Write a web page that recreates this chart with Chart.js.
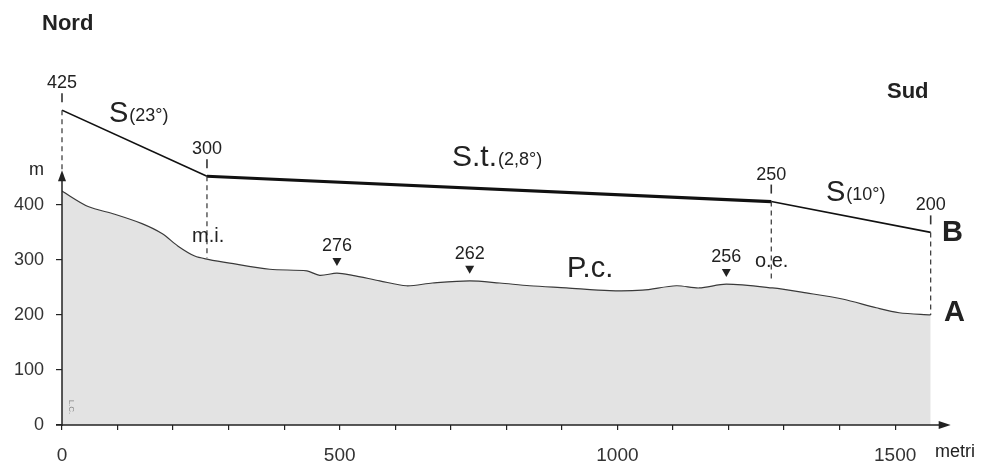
<!DOCTYPE html>
<html>
<head>
<meta charset="utf-8">
<script src="https://cdn.jsdelivr.net/npm/chart.js@4.4.1/dist/chart.umd.min.js"></script>
<style>
  html, body { margin: 0; padding: 0; background: #fff; }
  #wrap { width: 987px; height: 463px; }
</style>
</head>
<body>
<div id="wrap"><canvas id="c" width="987" height="463"></canvas></div>
<script>
// ---- Data ----
// Terrain profile A (distance in metri, elevation in m)
const profileX = [0, 47, 95, 144, 180, 209, 239, 263, 302, 374, 441, 464, 495, 523, 572, 620, 667, 734, 788, 842, 908, 986, 1045, 1106, 1147, 1196, 1279, 1340, 1405, 1466, 1507, 1564];
const profileY = [425, 397, 383, 366, 348, 325, 307, 301, 294, 283, 280, 272, 276, 272, 262, 253, 258, 262, 258, 253, 249, 244, 245, 253, 249, 256, 249, 240, 229, 213, 204, 200];
// Schematic surface line B (drawn above the profile)
const bLineX = [0, 261, 1277, 1564];
const bLineY = [572, 452, 406, 350];
const bLineLabels = ['425', '300', '250', '200'];
const bDashEnd = [463, 304, 266, 200];
// Peaks on profile
const peakX = [495, 734, 1196];
const peakY = [276, 262, 256];
const peakLabels = ['276', '262', '256'];
// Axis ticks
const yTicks = [0, 100, 200, 300, 400];
const xTicks = [0, 100, 200, 300, 400, 500, 600, 700, 800, 900, 1000, 1100, 1200, 1300, 1400, 1500];
const xLabelEvery = 500;

const FONT = '"Liberation Sans", Arial, Helvetica, sans-serif';
const INK = '#222';

const overlay = {
  id: 'overlay',
  afterDatasetsDraw(chart) {
    const ctx = chart.ctx;
    const xs = chart.scales.x, ys = chart.scales.y;
    const X = v => xs.getPixelForValue(v);
    const Y = v => ys.getPixelForValue(v);
    ctx.save();
    // axes
    ctx.strokeStyle = INK; ctx.fillStyle = INK; ctx.lineWidth = 1.5;
    const x0 = X(0), y0 = Y(0);
    const yTop = Y(463), xEnd = X(1600);
    ctx.beginPath(); ctx.moveTo(x0, y0 + 1); ctx.lineTo(x0, yTop + 8); ctx.stroke();
    ctx.beginPath(); ctx.moveTo(x0 - 4, yTop + 11); ctx.lineTo(x0, yTop); ctx.lineTo(x0 + 4, yTop + 11); ctx.closePath(); ctx.fill();
    ctx.beginPath(); ctx.moveTo(x0 - 6, y0); ctx.lineTo(xEnd - 8, y0); ctx.stroke();
    ctx.beginPath(); ctx.moveTo(xEnd - 12, y0 - 4); ctx.lineTo(xEnd, y0); ctx.lineTo(xEnd - 12, y0 + 4); ctx.closePath(); ctx.fill();

    // dashed verticals + small ticks + labels for line B
    ctx.lineWidth = 1.2; ctx.strokeStyle = '#333';
    ctx.font = '18px ' + FONT; ctx.textAlign = 'center'; ctx.textBaseline = 'middle';
    for (let i = 0; i < bLineX.length; i++) {
      const px = X(bLineX[i]), py = Y(bLineY[i]);
      ctx.setLineDash([5, 4]);
      ctx.beginPath(); ctx.moveTo(px, py); ctx.lineTo(px, Y(bDashEnd[i])); ctx.stroke();
      ctx.setLineDash([]);
      ctx.lineWidth = 1.6;
      ctx.beginPath(); ctx.moveTo(px, py - 17); ctx.lineTo(px, py - 8); ctx.stroke();
      ctx.lineWidth = 1.2;
      ctx.fillStyle = INK;
      ctx.fillText(bLineLabels[i], px, py - 27);
    }

    // peaks
    for (let i = 0; i < peakX.length; i++) {
      const px = X(peakX[i]), py = Y(peakY[i]);
      const tip = py - 7;
      ctx.beginPath(); ctx.moveTo(px - 4.5, tip - 8); ctx.lineTo(px + 4.5, tip - 8); ctx.lineTo(px, tip); ctx.closePath(); ctx.fill();
      ctx.fillText(peakLabels[i], px, tip - 20);
    }

    // text labels
    ctx.fillStyle = INK;
    ctx.font = 'bold 22px ' + FONT; ctx.textAlign = 'left';
    ctx.fillText('Nord', 42, 24);
    ctx.fillText('Sud', 887, 92);
    ctx.font = 'bold 29px ' + FONT;
    ctx.fillText('B', 942, 233);
    ctx.fillText('A', 944, 313);

    const sLabel = (big, small, x, y, bigSize) => {
      ctx.font = bigSize + 'px ' + FONT; ctx.textAlign = 'left';
      ctx.fillText(big, x, y);
      const w = ctx.measureText(big).width;
      ctx.font = '18px ' + FONT;
      ctx.fillText(small, x + w + 1, y + 2);
    };
    sLabel('S', '(23°)', 109, 114, 29);
    sLabel('S.t.', '(2,8°)', 452, 158, 30);
    sLabel('S', '(10°)', 826, 193, 29);
    ctx.font = '29px ' + FONT;
    ctx.fillText('P.c.', 567, 269);

    ctx.font = '20px ' + FONT; ctx.textAlign = 'left';
    ctx.fillText('m.i.', 192, 236);
    ctx.fillText('o.e.', 755, 261);
    ctx.font = '18px ' + FONT;
    ctx.fillText('m', 29, 170);
    ctx.fillText('metri', 935, 452);

    // small signature
    ctx.save();
    ctx.translate(71, 407); ctx.rotate(Math.PI / 2);
    ctx.font = '8px ' + FONT; ctx.fillStyle = '#888'; ctx.textAlign = 'center';
    ctx.fillText('L.C.', 0, 0);
    ctx.restore();

    ctx.restore();
  }
};

new Chart(document.getElementById('c'), {
  type: 'scatter',
  data: {
    datasets: [
      {
        label: 'A',
        data: profileX.map((x, i) => ({ x, y: profileY[i] })),
        showLine: true,
        fill: 'origin',
        backgroundColor: '#e3e3e3',
        borderColor: '#3a3a3a',
        borderWidth: 1.2,
        pointRadius: 0,
        tension: 0.3
      },
      {
        label: 'B',
        data: bLineX.map((x, i) => ({ x, y: bLineY[i] })),
        showLine: true,
        fill: false,
        borderColor: '#111',
        borderWidth: 1.6,
        pointRadius: 0,
        tension: 0,
        segment: { borderWidth: c => (c.p0DataIndex === 1 ? 3.2 : 1.6) }
      }
    ]
  },
  options: {
    responsive: false,
    animation: false,
    layout: { padding: { left: 0, right: 3, top: 4, bottom: 0 } },
    plugins: { legend: { display: false }, tooltip: { enabled: false } },
    scales: {
      x: {
        type: 'linear', min: 0, max: 1660,
        afterFit: s => { s.height = 38; s.paddingLeft = 0; s.paddingRight = 0; },
        afterBuildTicks: s => { s.ticks = xTicks.map(v => ({ value: v })); },
        grid: { display: true, drawOnChartArea: false, drawTicks: true, tickLength: 5, color: INK, lineWidth: 1.2 },
        border: { display: false },
        ticks: {
          autoSkip: false, maxRotation: 0, padding: 14,
          font: { family: FONT, size: 19 }, color: '#333',
          callback: v => (v % xLabelEvery === 0 ? String(v) : '')
        }
      },
      y: {
        type: 'linear', min: 0, max: 765,
        afterFit: s => { s.width = 62; s.paddingTop = 0; s.paddingBottom = 0; },
        afterBuildTicks: s => { s.ticks = yTicks.map(v => ({ value: v })); },
        grid: { display: true, drawOnChartArea: false, drawTicks: true, tickLength: 6, color: INK, lineWidth: 1.2 },
        border: { display: false },
        ticks: { padding: 12, font: { family: FONT, size: 18 }, color: '#333' }
      }
    }
  },
  plugins: [overlay]
});
</script>
</body>
</html>
